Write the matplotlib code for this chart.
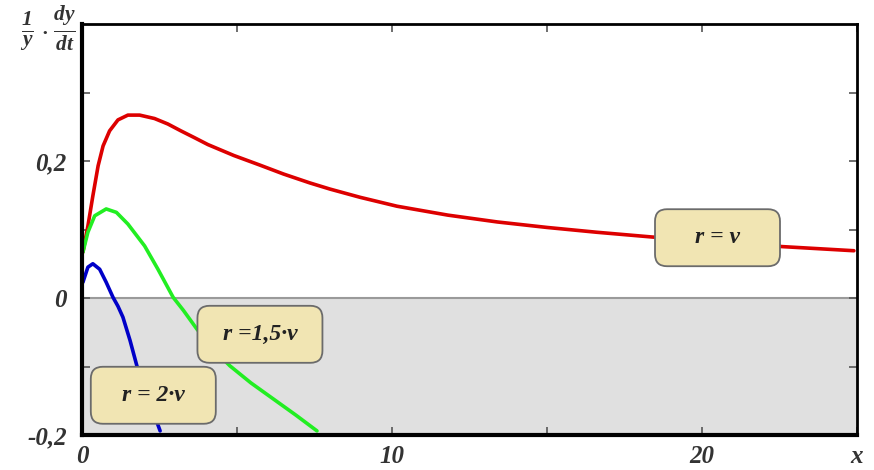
import matplotlib
matplotlib.use("Agg")
import matplotlib.pyplot as plt
from matplotlib.patches import FancyBboxPatch
from matplotlib.transforms import IdentityTransform

# ---- data ----
red_x = [0.03, 0.19, 0.35, 0.52, 0.68, 0.89, 1.16, 1.48, 1.86, 2.34, 2.77, 3.19,
         3.63, 4.06, 4.9, 5.74, 6.5, 7.35, 8.0, 8.97, 10.16, 11.8, 13.4, 15.0,
         16.6, 18.4, 20.5, 22.6, 24.9]
red_y = [0.067, 0.105, 0.149, 0.193, 0.222, 0.244, 0.260, 0.267, 0.267, 0.262,
         0.254, 0.244, 0.234, 0.224, 0.208, 0.194, 0.181, 0.168, 0.159, 0.147,
         0.134, 0.121, 0.111, 0.103, 0.096, 0.089, 0.082, 0.075, 0.069]

green_x = [0.03, 0.19, 0.41, 0.78, 1.11, 1.48, 2.02, 2.45, 2.94, 3.27, 3.7, 4.2,
           4.77, 5.45, 6.16, 6.9, 7.58]
green_y = [0.067, 0.096, 0.120, 0.130, 0.125, 0.108, 0.076, 0.042, 0.001, -0.018,
           -0.045, -0.073, -0.099, -0.124, -0.147, -0.171, -0.194]

blue_x = [0.03, 0.19, 0.35, 0.57, 0.78, 1.0, 1.16, 1.32, 1.55, 1.77, 2.15, 2.52]
blue_y = [0.023, 0.045, 0.050, 0.042, 0.023, 0.001, -0.012, -0.028, -0.062,
          -0.099, -0.148, -0.194]

label_texts = ["r = v", "r =1,5\u00b7v", "r = 2\u00b7v"]
label_x = [20.5, 5.74, 2.3]
label_y = [0.088, -0.053, -0.142]

xtick_vals = [0, 5, 10, 15, 20, 25]
xtick_labels = ["0", "", "10", "", "20", "x"]
ytick_vals = [-0.2, -0.1, 0.0, 0.1, 0.2, 0.3]
ytick_labels = ["-0,2", "", "0", "", "0,2", ""]

# ---- styling ----
plt.rcParams['mathtext.fontset'] = 'custom'
plt.rcParams['mathtext.rm'] = 'Liberation Serif:bold:italic'
plt.rcParams['mathtext.it'] = 'Liberation Serif:bold:italic'
plt.rcParams['mathtext.bf'] = 'Liberation Serif:bold:italic'

fig = plt.figure(figsize=(8.74, 4.70), dpi=100)
ax = fig.add_axes([82/874, 1-435/470, (857-82)/874, (435-24)/470])
ax.set_xlim(0, 25)
ax.set_ylim(-0.2, 0.4)

ax.axhspan(-0.2, 0, color='#e0e0e0', zorder=0)
ax.axhline(0, color='#9a9a9a', lw=1.5, zorder=1)

ax.plot(red_x, red_y, color='#dd0000', lw=2.6, zorder=3, solid_capstyle='round',
        solid_joinstyle='round')
ax.plot(green_x, green_y, color='#22ee22', lw=2.6, zorder=3, solid_capstyle='round',
        solid_joinstyle='round')
ax.plot(blue_x, blue_y, color='#0000c8', lw=2.6, zorder=3, solid_capstyle='round',
        solid_joinstyle='round')

for side in ['left', 'bottom']:
    ax.spines[side].set_linewidth(3)
for side in ['top', 'right']:
    ax.spines[side].set_linewidth(2)
for s in ax.spines.values():
    s.set_color('black')
    s.set_zorder(5)

tick_font = dict(family='Liberation Serif', weight='bold', style='italic', size=18)
ax.set_xticks(xtick_vals)
ax.set_xticklabels(xtick_labels, color='#333333', **tick_font)
ax.set_yticks(ytick_vals)
ax.set_yticklabels(ytick_labels, color='#333333', **tick_font)
ax.tick_params(axis='both', direction='in', length=6, width=1.2, color='#555555',
               top=True, right=True)
ax.tick_params(axis='x', pad=7)
ax.tick_params(axis='y', pad=11)

# label boxes
fig.canvas.draw()
bw, bh = 125, 57
for t, lx, ly in zip(label_texts, label_x, label_y):
    cx, cy = ax.transData.transform((lx, ly))
    box = FancyBboxPatch((cx - bw/2, cy - bh/2), bw, bh,
                         boxstyle='round,pad=0,rounding_size=12',
                         transform=IdentityTransform(), facecolor='#f1e5b3',
                         edgecolor='#6b6b6b', lw=1.3, zorder=6)
    fig.add_artist(box)
    fig.text(cx/874, cy/470, t, ha='center', va='center', color='#222222',
             family='Liberation Serif', weight='bold', style='italic', size=17,
             zorder=7)

fig.text(48/874, 1-28/470, r'$\frac{1}{y}\cdot\frac{dy}{dt}$', ha='center',
         va='center', color='#333333', size=22)

fig.savefig('out.png', dpi=100)
